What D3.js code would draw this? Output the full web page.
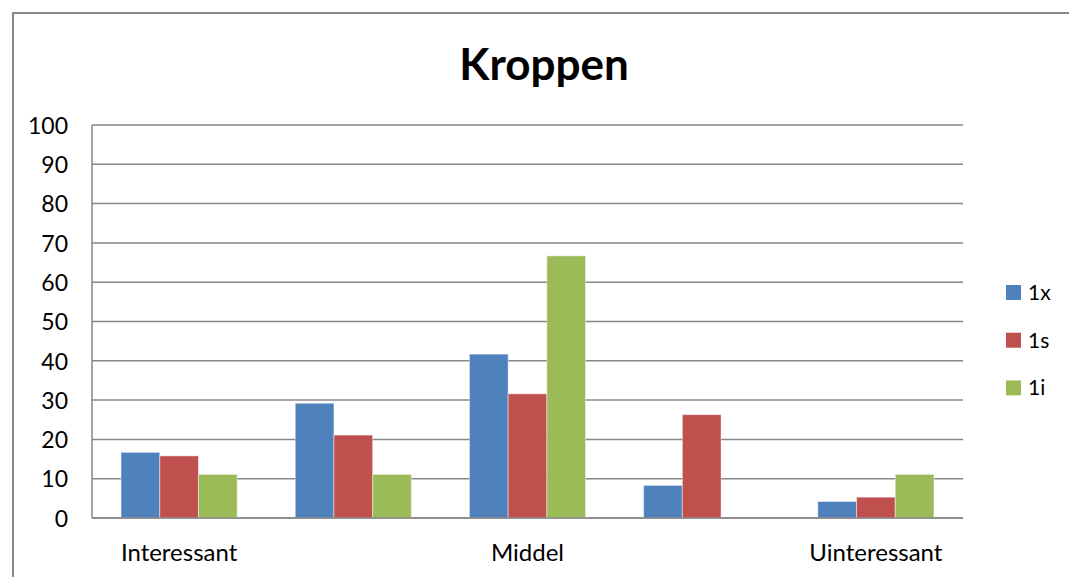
<!DOCTYPE html>
<html>
<head>
<meta charset="utf-8">
<script src="https://cdn.jsdelivr.net/npm/d3@7"></script>
<style>
   body { margin: 0; background: #fff; }
   text { font-family: Lato, "Open Sans", sans-serif; fill: #000; }
   .grid line, .axisLine { stroke: #878787; stroke-width: 1.5; }
</style>
</head>
<body>
<div id="svgContainer"></div>
<script>

   // chart data
   var categories = ['Interessant', '', 'Middel', '', 'Uinteressant'];
   var seriesNames = ['1x', '1s', '1i'];
   var values1x = [16.7, 29.2, 41.7, 8.3, 4.2];
   var values1s = [15.8, 21.1, 31.6, 26.3, 5.3];
   var values1i = [11.1, 11.1, 66.7, 0, 11.1];
   var yTicks = [0, 10, 20, 30, 40, 50, 60, 70, 80, 90, 100];

   var SVG_WIDTH = 1069; // svg width
   var SVG_HEIGHT = 577; // svg height
   var COLORS = ['#4F81BD', '#C0504D', '#9BBB59'];

   // plot area
   var PLOT_LEFT = 92;
   var PLOT_RIGHT = 963;
   var PLOT_TOP = 125;
   var PLOT_BOTTOM = 518;

   var allValues = [values1x, values1s, values1i];

   var svg = d3.select('#svgContainer')
      .append('svg')
      .attr('width', SVG_WIDTH)
      .attr('height', SVG_HEIGHT);

   // outer chart border (only left and top are inside the picture)
   svg.append('path')
      .attr('d', 'M13,' + SVG_HEIGHT + ' L13,13 L' + SVG_WIDTH + ',13')
      .attr('fill', 'none')
      .attr('stroke', '#878787')
      .attr('stroke-width', 2);

   // title
   svg.append('text')
      .attr('x', 544)
      .attr('y', 80)
      .attr('text-anchor', 'middle')
      .style('font-size', '44px')
      .style('font-weight', 'bold')
      .text('Kroppen');

   // scales
   var x0 = d3.scaleBand()
      .domain(d3.range(categories.length))
      .range([PLOT_LEFT, PLOT_RIGHT])
      .paddingInner(0)
      .paddingOuter(0);

   // bar width: gap between groups is 150% of one bar
   var x1 = d3.scaleBand()
      .domain(d3.range(seriesNames.length))
      .range([0, x0.bandwidth()])
      .paddingInner(0)
      .paddingOuter(0.75);

   var y = d3.scaleLinear()
      .domain([0, 100])
      .range([PLOT_BOTTOM, PLOT_TOP]);

   // gridlines
   svg.append('g')
      .attr('class', 'grid')
      .selectAll('line')
      .data(yTicks)
      .enter()
      .append('line')
         .attr('x1', PLOT_LEFT)
         .attr('x2', PLOT_RIGHT)
         .attr('y1', function(d){ return y(d); })
         .attr('y2', function(d){ return y(d); });

   // y axis line
   svg.append('line')
      .attr('class', 'axisLine')
      .attr('x1', PLOT_LEFT)
      .attr('x2', PLOT_LEFT)
      .attr('y1', PLOT_TOP)
      .attr('y2', PLOT_BOTTOM);

   // y tick labels
   var yAxis = d3.axisLeft(y)
      .tickValues(yTicks)
      .tickSize(0)
      .tickPadding(24);

   var yAxisGroup = svg.append('g')
      .attr('transform', 'translate(' + PLOT_LEFT + ',0)')
      .call(yAxis);
   yAxisGroup.select('.domain').remove();
   yAxisGroup.selectAll('text')
      .attr('dy', '0.36em')
      .style('font-family', 'Lato, sans-serif')
      .style('font-size', '23px')
      .attr('fill', '#000');

   // bars
   var groups = svg.append('g')
      .selectAll('g')
      .data(allValues)
      .enter()
      .append('g')
         .attr('fill', function(d, i){ return COLORS[i]; });

   groups.each(function(vals, s){
      d3.select(this).selectAll('rect')
         .data(vals)
         .enter()
         .append('rect')
            .attr('x', function(d, i){ return x0(i) + x1(s); })
            .attr('width', x1.bandwidth())
            .attr('y', function(d){ return y(d); })
            .attr('height', function(d){ return y(0) - y(d); })
            .attr('stroke', 'rgba(255,255,255,0.45)')
            .attr('stroke-width', 1);
   });

   // x axis line (on top of bars)
   svg.append('line')
      .attr('class', 'axisLine')
      .attr('x1', PLOT_LEFT)
      .attr('x2', PLOT_RIGHT)
      .attr('y1', PLOT_BOTTOM)
      .attr('y2', PLOT_BOTTOM);

   // category labels
   svg.append('g')
      .selectAll('text')
      .data(categories)
      .enter()
      .append('text')
         .attr('x', function(d, i){ return x0(i) + x0.bandwidth() / 2; })
         .attr('y', 561)
         .attr('text-anchor', 'middle')
         .style('font-size', '24px')
         .text(function(d){ return d; });

   // legend
   var legend = svg.append('g')
      .selectAll('g')
      .data(seriesNames)
      .enter()
      .append('g')
         .attr('transform', function(d, i){
            return 'translate(1006,' + (285 + i * 47.7) + ')';
         });

   legend.append('rect')
      .attr('width', 15)
      .attr('height', 15)
      .attr('fill', function(d, i){ return COLORS[i]; });

   legend.append('text')
      .attr('x', 22)
      .attr('y', 15)
      .style('font-size', '21px')
      .text(function(d){ return d; });

</script>
</body>
</html>
